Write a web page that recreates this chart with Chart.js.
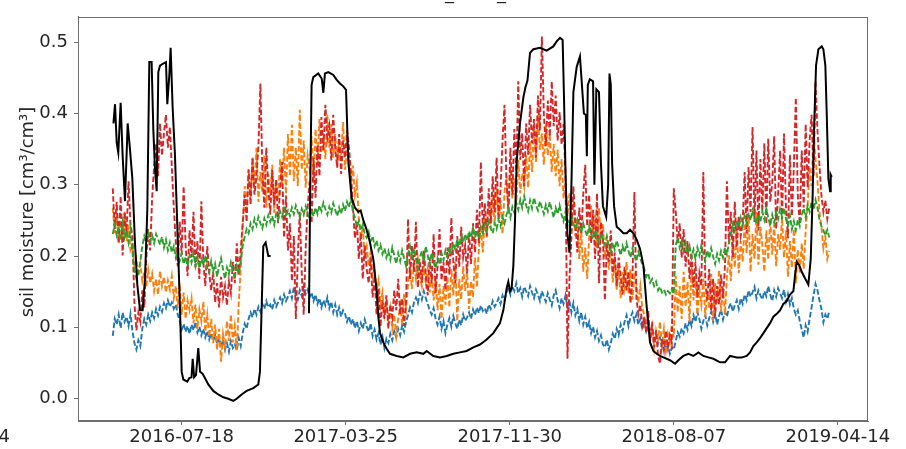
<!DOCTYPE html>
<html>
<head>
<meta charset="utf-8">
<script src="https://cdn.jsdelivr.net/npm/chart.js@4.4.1/dist/chart.umd.min.js"></script>
<style>
  html, body { margin: 0; padding: 0; background: #fff; overflow: hidden; }
  canvas { display: block; }
</style>
</head>
<body>
<canvas id="c" width="906" height="449"></canvas>
<script>
// Date tick labels on the time axis
const tickLabels = ['2016-07-18', '2017-03-25', '2017-11-30', '2018-08-07', '2019-04-14'];
const yTickValues = [0, 0.1, 0.2, 0.3, 0.4, 0.5];

// Probe series: one value every 3 days starting 2016-04-04 (10 values = 30 days per row)
const probeStart = '2016-04-04';
const probeStep = 3;

const blueVals = [
  0.088,0.112,0.104,0.118,0.099,0.121,0.108,0.115,0.102,0.119,
  0.095,0.078,0.069,0.082,0.074,0.098,0.112,0.104,0.118,0.109,
  0.121,0.113,0.126,0.117,0.129,0.122,0.134,0.127,0.138,0.129,
  0.135,0.126,0.132,0.118,0.109,0.097,0.105,0.094,0.102,0.091,
  0.104,0.096,0.108,0.093,0.101,0.089,0.098,0.086,0.095,0.083,
  0.092,0.081,0.089,0.077,0.086,0.072,0.083,0.069,0.078,0.066,
  0.081,0.071,0.076,0.068,0.085,0.074,0.092,0.105,0.098,0.112,
  0.121,0.114,0.126,0.118,0.129,0.122,0.133,0.126,0.137,0.128,
  0.132,0.125,0.138,0.129,0.135,0.142,0.134,0.146,0.137,0.143,
  0.151,0.141,0.156,0.145,0.139,0.152,0.144,0.158,0.147,0.153,
  0.142,0.149,0.137,0.146,0.133,0.141,0.128,0.138,0.131,0.142,
  0.127,0.136,0.121,0.132,0.118,0.128,0.115,0.124,0.119,0.108,
  0.116,0.104,0.112,0.099,0.109,0.095,0.106,0.098,0.111,0.101,
  0.094,0.106,0.088,0.097,0.083,0.092,0.076,0.087,0.071,0.084,
  0.078,0.091,0.082,0.095,0.086,0.098,0.089,0.103,0.094,0.108,
  0.117,0.128,0.121,0.135,0.142,0.134,0.148,0.139,0.151,0.141,
  0.133,0.124,0.118,0.127,0.112,0.104,0.115,0.098,0.109,0.092,
  0.104,0.113,0.101,0.116,0.106,0.098,0.111,0.103,0.118,0.109,
  0.114,0.121,0.112,0.125,0.117,0.128,0.120,0.131,0.123,0.127,
  0.119,0.132,0.126,0.137,0.129,0.134,0.141,0.133,0.145,0.138,
  0.149,0.156,0.146,0.158,0.151,0.162,0.148,0.155,0.143,0.157,
  0.151,0.144,0.158,0.149,0.141,0.153,0.146,0.137,0.151,0.143,
  0.136,0.148,0.139,0.131,0.145,0.152,0.138,0.127,0.141,0.133,
  0.145,0.128,0.137,0.121,0.134,0.117,0.126,0.109,0.121,0.104,
  0.115,0.099,0.108,0.092,0.101,0.086,0.095,0.081,0.089,0.076,
  0.072,0.083,0.069,0.078,0.091,0.084,0.098,0.089,0.104,0.095,
  0.108,0.117,0.102,0.114,0.121,0.109,0.118,0.104,0.112,0.097,
  0.108,0.094,0.101,0.087,0.096,0.082,0.091,0.077,0.086,0.072,
  0.081,0.068,0.076,0.063,0.072,0.069,0.081,0.093,0.087,0.099,
  0.092,0.106,0.097,0.111,0.102,0.117,0.108,0.122,0.112,0.098,
  0.109,0.117,0.103,0.113,0.122,0.108,0.119,0.104,0.116,0.125,
  0.111,0.122,0.115,0.128,0.134,0.122,0.131,0.138,0.126,0.141,
  0.133,0.146,0.138,0.152,0.143,0.149,0.157,0.141,0.152,0.145,
  0.139,0.151,0.144,0.158,0.146,0.137,0.152,0.143,0.155,0.148,
  0.141,0.153,0.136,0.147,0.132,0.141,0.126,0.118,0.124,0.109,
  0.097,0.086,0.103,0.094,0.112,0.128,0.145,0.161,0.152,0.138,
  0.126,0.107,0.118,0.112,0.123
];

const orangeVals = [
  0.268,0.232,0.257,0.218,0.249,0.225,0.262,0.221,0.244,0.208,
  0.214,0.186,0.197,0.172,0.189,0.165,0.178,0.156,0.181,0.162,
  0.175,0.151,0.168,0.146,0.179,0.158,0.171,0.149,0.166,0.153,
  0.172,0.141,0.158,0.127,0.162,0.118,0.149,0.112,0.138,0.124,
  0.141,0.106,0.132,0.098,0.125,0.109,0.136,0.094,0.118,0.087,
  0.112,0.078,0.104,0.069,0.098,0.052,0.091,0.073,0.109,0.081,
  0.118,0.079,0.102,0.068,0.135,0.182,0.241,0.298,0.265,0.322,
  0.281,0.338,0.294,0.352,0.276,0.318,0.289,0.341,0.268,0.315,
  0.284,0.328,0.261,0.305,0.279,0.336,0.298,0.352,0.287,0.371,
  0.312,0.384,0.305,0.352,0.298,0.405,0.321,0.362,0.296,0.341,
  0.322,0.368,0.305,0.378,0.331,0.392,0.345,0.372,0.336,0.398,
  0.352,0.385,0.338,0.371,0.326,0.364,0.342,0.388,0.321,0.356,
  0.334,0.298,0.327,0.286,0.304,0.252,0.226,0.241,0.198,0.213,
  0.187,0.206,0.172,0.184,0.151,0.166,0.132,0.149,0.118,0.136,
  0.108,0.127,0.098,0.118,0.089,0.112,0.131,0.104,0.147,0.126,
  0.161,0.182,0.154,0.191,0.168,0.196,0.172,0.158,0.188,0.163,
  0.182,0.149,0.176,0.138,0.169,0.124,0.161,0.112,0.158,0.132,
  0.171,0.128,0.182,0.145,0.192,0.109,0.168,0.139,0.186,0.151,
  0.178,0.126,0.165,0.142,0.198,0.156,0.212,0.238,0.205,0.254,
  0.226,0.271,0.238,0.282,0.245,0.296,0.252,0.278,0.231,0.289,
  0.312,0.265,0.324,0.281,0.309,0.272,0.335,0.288,0.316,0.298,
  0.342,0.296,0.361,0.318,0.384,0.332,0.398,0.349,0.372,0.328,
  0.386,0.341,0.372,0.318,0.357,0.312,0.349,0.298,0.336,0.281,
  0.302,0.256,0.288,0.241,0.276,0.228,0.252,0.196,0.234,0.178,
  0.212,0.168,0.226,0.271,0.232,0.258,0.211,0.268,0.224,0.245,
  0.198,0.226,0.181,0.214,0.163,0.195,0.152,0.186,0.141,0.178,
  0.156,0.192,0.148,0.181,0.139,0.172,0.161,0.134,0.158,0.127,
  0.118,0.094,0.109,0.082,0.101,0.071,0.096,0.084,0.108,0.076,
  0.098,0.068,0.091,0.079,0.104,0.086,0.172,0.121,0.158,0.112,
  0.178,0.129,0.164,0.108,0.186,0.138,0.169,0.118,0.154,0.132,
  0.168,0.115,0.152,0.126,0.175,0.109,0.162,0.134,0.181,0.122,
  0.156,0.118,0.172,0.201,0.165,0.226,0.184,0.238,0.176,0.221,
  0.192,0.246,0.204,0.258,0.178,0.231,0.196,0.262,0.188,0.241,
  0.215,0.178,0.236,0.195,0.252,0.202,0.244,0.186,0.231,0.209,
  0.254,0.198,0.236,0.171,0.221,0.184,0.238,0.162,0.209,0.176,
  0.218,0.182,0.236,0.271,0.325,0.298,0.372,0.336,0.305,0.262,
  0.241,0.211,0.228,0.196,0.207
];

const greenVals = [
  0.231,0.244,0.229,0.238,0.222,0.247,0.226,0.235,0.219,0.238,
  0.205,0.181,0.168,0.176,0.192,0.214,0.228,0.219,0.233,0.221,
  0.229,0.218,0.231,0.224,0.216,0.227,0.212,0.223,0.208,0.219,
  0.205,0.214,0.198,0.208,0.193,0.204,0.189,0.199,0.186,0.201,
  0.191,0.205,0.186,0.198,0.183,0.196,0.188,0.201,0.184,0.177,
  0.193,0.178,0.189,0.171,0.186,0.197,0.182,0.168,0.184,0.175,
  0.191,0.179,0.172,0.186,0.174,0.193,0.214,0.227,0.238,0.232,
  0.246,0.238,0.252,0.243,0.255,0.246,0.239,0.253,0.244,0.257,
  0.248,0.256,0.244,0.259,0.251,0.263,0.255,0.267,0.258,0.264,
  0.256,0.268,0.259,0.271,0.262,0.254,0.266,0.258,0.270,0.261,
  0.252,0.264,0.256,0.268,0.259,0.271,0.263,0.275,0.266,0.258,
  0.269,0.261,0.274,0.265,0.256,0.268,0.259,0.272,0.263,0.276,
  0.268,0.281,0.262,0.254,0.241,0.249,0.236,0.244,0.231,0.226,
  0.234,0.221,0.228,0.214,0.222,0.208,0.216,0.203,0.211,0.198,
  0.207,0.195,0.212,0.201,0.189,0.204,0.193,0.208,0.197,0.186,
  0.203,0.214,0.199,0.211,0.196,0.182,0.198,0.207,0.193,0.214,
  0.201,0.188,0.205,0.192,0.183,0.197,0.189,0.204,0.194,0.208,
  0.199,0.213,0.204,0.218,0.209,0.223,0.214,0.227,0.219,0.231,
  0.222,0.235,0.226,0.239,0.228,0.236,0.224,0.241,0.232,0.245,
  0.236,0.248,0.239,0.232,0.246,0.238,0.251,0.242,0.255,0.246,
  0.258,0.266,0.254,0.269,0.261,0.274,0.265,0.279,0.268,0.284,
  0.271,0.263,0.278,0.267,0.282,0.271,0.264,0.277,0.268,0.259,
  0.272,0.263,0.276,0.265,0.254,0.268,0.259,0.271,0.258,0.249,
  0.262,0.251,0.243,0.256,0.246,0.238,0.251,0.241,0.233,0.246,
  0.236,0.228,0.242,0.231,0.224,0.237,0.226,0.219,0.232,0.222,
  0.216,0.228,0.214,0.206,0.219,0.209,0.222,0.212,0.201,0.214,
  0.205,0.218,0.207,0.198,0.211,0.201,0.193,0.206,0.197,0.188,
  0.182,0.171,0.176,0.163,0.168,0.158,0.164,0.152,0.157,0.149,
  0.153,0.146,0.151,0.148,0.154,0.147,0.215,0.226,0.212,0.221,
  0.207,0.219,0.203,0.214,0.198,0.209,0.196,0.212,0.201,0.215,
  0.204,0.193,0.208,0.197,0.211,0.199,0.189,0.203,0.194,0.207,
  0.198,0.212,0.202,0.218,0.231,0.245,0.236,0.251,0.240,0.254,
  0.243,0.257,0.247,0.261,0.250,0.264,0.253,0.246,0.259,0.248,
  0.262,0.251,0.266,0.254,0.243,0.258,0.247,0.261,0.252,0.266,
  0.255,0.268,0.252,0.243,0.257,0.238,0.249,0.236,0.251,0.242,
  0.258,0.267,0.254,0.271,0.262,0.276,0.265,0.279,0.268,0.251,
  0.242,0.236,0.229,0.237,0.226
];

const redVals = [
  0.295,0.238,0.276,0.218,0.284,0.201,0.262,0.232,0.305,0.244,
  0.228,0.134,0.096,0.121,0.108,0.152,0.128,0.195,0.238,0.208,
  0.282,0.326,0.358,0.312,0.386,0.341,0.372,0.398,0.352,0.381,
  0.325,0.268,0.221,0.186,0.248,0.202,0.298,0.215,0.172,0.236,
  0.198,0.262,0.184,0.221,0.168,0.277,0.192,0.158,0.214,0.176,
  0.152,0.178,0.135,0.162,0.128,0.171,0.142,0.158,0.131,0.165,
  0.148,0.192,0.162,0.218,0.174,0.208,0.246,0.286,0.248,0.321,
  0.272,0.338,0.286,0.312,0.355,0.442,0.318,0.268,0.352,0.296,
  0.258,0.321,0.272,0.308,0.246,0.295,0.332,0.226,0.285,0.208,
  0.246,0.165,0.228,0.112,0.198,0.262,0.176,0.118,0.212,0.268,
  0.305,0.246,0.338,0.282,0.356,0.312,0.395,0.348,0.412,0.365,
  0.382,0.334,0.398,0.352,0.324,0.371,0.315,0.362,0.338,0.376,
  0.352,0.318,0.268,0.225,0.248,0.196,0.232,0.168,0.215,0.182,
  0.162,0.198,0.142,0.172,0.118,0.154,0.101,0.138,0.112,0.145,
  0.098,0.132,0.115,0.152,0.124,0.168,0.118,0.141,0.102,0.138,
  0.252,0.168,0.215,0.178,0.248,0.156,0.192,0.163,0.208,0.174,
  0.145,0.198,0.162,0.231,0.148,0.186,0.238,0.166,0.192,0.152,
  0.212,0.174,0.254,0.192,0.162,0.228,0.185,0.241,0.198,0.215,
  0.176,0.232,0.189,0.246,0.205,0.265,0.218,0.332,0.236,0.274,
  0.228,0.295,0.246,0.312,0.262,0.338,0.251,0.296,0.362,0.412,
  0.305,0.262,0.352,0.286,0.378,0.318,0.445,0.335,0.372,0.298,
  0.386,0.342,0.412,0.358,0.392,0.338,0.425,0.376,0.508,0.398,
  0.354,0.418,0.368,0.445,0.382,0.425,0.362,0.402,0.356,0.385,
  0.312,0.056,0.168,0.226,0.298,0.248,0.205,0.268,0.232,0.286,
  0.328,0.242,0.286,0.218,0.265,0.196,0.288,0.162,0.248,0.225,
  0.138,0.218,0.192,0.236,0.176,0.205,0.158,0.198,0.172,0.146,
  0.185,0.152,0.178,0.134,0.168,0.290,0.142,0.118,0.132,0.102,
  0.115,0.092,0.124,0.081,0.108,0.072,0.096,0.061,0.049,0.084,
  0.068,0.095,0.072,0.089,0.078,0.295,0.262,0.218,0.246,0.198,
  0.238,0.185,0.221,0.168,0.205,0.156,0.192,0.142,0.176,0.158,
  0.318,0.165,0.138,0.182,0.124,0.168,0.115,0.158,0.132,0.174,
  0.141,0.186,0.305,0.218,0.262,0.198,0.276,0.212,0.256,0.228,
  0.246,0.318,0.232,0.325,0.262,0.381,0.248,0.348,0.236,0.336,
  0.262,0.358,0.245,0.365,0.276,0.302,0.368,0.238,0.286,0.348,
  0.252,0.372,0.268,0.225,0.342,0.256,0.325,0.422,0.286,0.245,
  0.348,0.268,0.385,0.296,0.362,0.398,0.312,0.445,0.376,0.328,
  0.285,0.262,0.278,0.252,0.268
];

// Modelled series (solid black): days since 2016-07-18 and values; null marks the data gap
const blackDay = [
  -104,-101.6,-99,-96.6,-93,-90,-86.4,-82.3,-78.8,-75.2,-71.2,-67.6,-63.5,-59.5,-55.9,-52.4,
  -49.3,-45.8,-43.2,-40.7,-38.1,-35.6,-33.1,-28,-23.9,-21.9,-18.8,-16.8,-13.8,-10.2,-6.6,-2.6,
  0,2.5,8.6,11.6,15,16.8,19,21.8,25.3,28,32,36,40.6,48.2,55.8,63.5,71.1,78.7,83.8,91.4,99,
  109.2,116.8,119.3,121.9,124.4,128,132,135.6,160,
  194,196,198,200.6,208.2,213.4,215.9,218.4,223.5,231.1,236.3,241.3,246.4,250.5,254,259,264,
  269.2,272.8,276.9,281.9,287,292,297.2,299.7,302.3,307.3,312.4,317.5,327.7,337.8,348,358.1,
  368.3,373.4,383.5,393.7,403.9,414,424.2,434.3,444.5,454.7,464.8,475,485.1,490.2,495.3,497.8,
  500.4,502.9,505.5,508,510.5,515.6,520.7,524,527,530.9,536,546.1,556.3,566.4,571.5,576.6,
  580.6,582.7,585.2,587.8,591,594,597,602,607,610,613,616,617.5,619,622,627,629,632,636,639,
  642,647,650,652,654,656,659,663,668.1,673.2,678.3,683.4,688.4,693.5,698.6,703.7,708.8,713.8,
  718.9,724,729.1,734.2,744.3,751.9,757,764.6,772.3,779.9,787.5,795.1,802.7,810.4,820.5,828.1,
  835.8,845.9,853.5,861.2,866.2,871.3,876.4,881.5,886.6,891.6,896.7,901.8,906.9,912,917,922.1,
  927.2,932.3,934.8,937.4,941.4,945,950,955.1,958.7,961.7,963.8,966.8,970.4,975.5,978,981,
  983.1,985.6,988.2,989.2,990.7
];
const blackVals = [
  0.386,0.413,0.359,0.345,0.415,0.341,0.277,0.386,0.350,0.309,0.219,0.160,0.124,0.124,0.169,0.264,
  0.472,0.472,0.377,0.323,0.291,0.458,0.467,0.470,0.472,0.413,0.454,0.492,0.409,0.341,0.241,0.128,
  0.038,0.027,0.024,0.029,0.030,0.056,0.030,0.033,0.071,0.038,0.035,0.028,0.020,0.011,0.006,0.002,0.000,-0.003,0.000,0.006,0.011,
  0.015,0.020,0.038,0.128,0.214,0.219,0.200,0.200,null,
  0.120,0.300,0.440,0.451,0.456,0.449,0.429,0.456,0.458,0.454,0.447,0.442,0.438,0.433,0.332,0.282,0.268,
  0.262,0.264,0.250,0.237,0.219,0.196,0.151,0.115,0.092,0.079,0.070,0.063,0.060,0.058,0.063,0.065,
  0.063,0.067,0.060,0.058,0.060,0.063,0.065,0.067,0.072,0.076,0.083,0.092,0.106,0.124,0.155,0.164,
  0.151,0.155,0.187,0.250,0.332,0.386,0.422,0.437,0.446,0.485,0.490,0.492,0.488,0.494,0.501,0.506,
  0.503,0.422,0.309,0.232,0.205,0.300,0.430,0.465,0.480,0.440,0.400,0.398,0.340,0.440,0.448,0.445,0.300,0.434,0.430,0.330,
  0.270,0.255,0.300,0.456,0.440,0.330,0.270,0.241,0.237,0.232,0.232,0.237,0.232,0.223,0.210,0.187,0.128,0.079,
  0.067,0.063,0.060,0.058,0.054,0.049,0.054,0.060,0.063,0.060,0.065,0.060,0.058,0.056,0.051,0.051,
  0.060,0.058,0.058,0.060,0.065,0.074,0.079,0.085,0.092,0.099,0.106,0.115,0.119,0.124,0.133,0.137,
  0.146,0.151,0.173,0.192,0.187,0.178,0.169,0.160,0.196,0.287,0.377,0.467,0.490,0.494,0.490,0.467,
  0.400,0.309,0.291,0.314,0.311
];

const DAY_MS = 86400000;
const refTime = Date.parse(tickLabels[0]);
const dayOf = s => (Date.parse(s) - refTime) / DAY_MS;
const tickDays = tickLabels.map(dayOf);
const firstProbeDay = dayOf(probeStart);
const probePoints = vals => vals.map((v, i) => ({ x: firstProbeDay + i * probeStep, y: v }));
const blackPoints = blackDay.map((d, i) => ({ x: d, y: blackVals[i] }));

const FONT = 'DejaVu Sans';
const TEXT = '#262626';
const SPINE = '#6f6f6f';

function dashedSet(label, color, vals, order) {
  return {
    label, data: probePoints(vals), borderColor: color, borderWidth: 1.9,
    borderDash: [5.5, 2.4], pointRadius: 0, fill: false, tension: 0, order
  };
}

// Frame on all four sides, y-axis title and the cut-off texts at the figure edges
const decorations = {
  id: 'decorations',
  afterDraw(chart) {
    const { ctx, chartArea: a } = chart;
    ctx.save();
    ctx.strokeStyle = SPINE;
    ctx.lineWidth = 1;
    ctx.strokeRect(Math.round(a.left) + 0.5, Math.round(a.top) + 0.5,
                   Math.round(a.right - a.left) - 1, Math.round(a.bottom - a.top) - 1);
    ctx.fillStyle = TEXT;
    ctx.font = '18px "' + FONT + '"';
    // y-axis title
    ctx.save();
    ctx.translate(33, 212);
    ctx.rotate(-Math.PI / 2);
    ctx.textAlign = 'center';
    ctx.textBaseline = 'alphabetic';
    ctx.fillText('soil moisture [cm\u00b3/cm\u00b3]', 0, 0);
    ctx.restore();
    // last date label of the neighbouring panel, clipped by the left edge
    ctx.textAlign = 'right';
    ctx.textBaseline = 'alphabetic';
    ctx.fillText(tickLabels[tickLabels.length - 1], 10, 442);
    // underscores of the panel title above the top edge
    ctx.textAlign = 'left';
    ctx.fillText('_', 445, -1);
    ctx.fillText('_', 497, -1);
    ctx.restore();
  }
};

new Chart(document.getElementById('c'), {
  type: 'line',
  data: {
    datasets: [
      { label: 'series 0', data: blackPoints, borderColor: '#000000', borderWidth: 2,
        pointRadius: 0, fill: false, tension: 0, spanGaps: false, order: 0 },
      dashedSet('series 3', '#2ca02c', greenVals, 1),
      dashedSet('series 4', '#d62728', redVals, 2),
      dashedSet('series 2', '#ff7f0e', orangeVals, 3),
      dashedSet('series 1', '#1f77b4', blueVals, 4)
    ]
  },
  options: {
    responsive: false,
    animation: false,
    devicePixelRatio: 1,
    layout: { padding: { left: 0, right: 38, top: 3, bottom: 0 } },
    plugins: { legend: { display: false }, tooltip: { enabled: false } },
    scales: {
      x: {
        type: 'linear', min: -158, max: 1046,
        afterBuildTicks: s => { s.ticks = tickDays.map(v => ({ value: v })); },
        afterFit: s => { s.height = 28; },
        ticks: {
          callback: v => tickLabels[tickDays.indexOf(v)],
          autoSkip: false, maxRotation: 0, padding: 2,
          font: { family: FONT, size: 18 }, color: TEXT
        },
        grid: { display: true, drawOnChartArea: false, tickLength: 4, color: SPINE },
        border: { display: true, color: SPINE }
      },
      y: {
        type: 'linear', min: -0.0312, max: 0.5355,
        afterBuildTicks: s => { s.ticks = yTickValues.map(v => ({ value: v })); },
        afterFit: s => { s.width = 78; },
        ticks: {
          callback: v => v.toFixed(1),
          padding: 6,
          font: { family: FONT, size: 18 }, color: TEXT
        },
        grid: { display: true, drawOnChartArea: false, tickLength: 4, color: SPINE },
        border: { display: true, color: SPINE }
      }
    }
  },
  plugins: [decorations]
});
</script>
</body>
</html>
